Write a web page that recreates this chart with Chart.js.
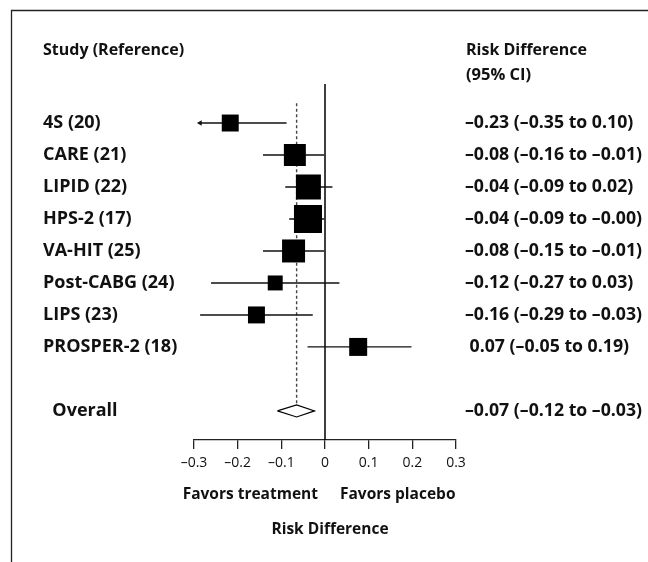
<!DOCTYPE html>
<html lang="en">
  <head>
    <meta charset="UTF-8" />
    <title>Risk Difference forest plot</title>
    <style>
      html, body { margin: 0; padding: 0; background: #fff; }
      #wrap { position: relative; width: 648px; height: 562px; }
    </style>
  </head>
  <body>
    <div id="wrap"><canvas id="forest"></canvas></div>

    <script src="https://cdn.jsdelivr.net/npm/chart.js@4.4.1/dist/chart.umd.min.js"></script>
    <script>
      // study labels and the printed estimates (right column)
      var studies = ["4S (20)", "CARE (21)", "LIPID (22)", "HPS-2 (17)", "VA-HIT (25)", "Post-CABG (24)", "LIPS (23)", "PROSPER-2 (18)"];
      var ciText = [
        "\u20130.23 (\u20130.35 to 0.10)",
        "\u20130.08 (\u20130.16 to \u20130.01)",
        "\u20130.04 (\u20130.09 to 0.02)",
        "\u20130.04 (\u20130.09 to \u20130.00)",
        "\u20130.08 (\u20130.15 to \u20130.01)",
        "\u20130.12 (\u20130.27 to 0.03)",
        "\u20130.16 (\u20130.29 to \u20130.03)",
        " 0.07 (\u20130.05 to 0.19)"
      ];

      // values as plotted
      var estimate = [-0.217, -0.069, -0.038, -0.039, -0.072, -0.114, -0.157, 0.076];
      var lowerCI = [-0.286, -0.142, -0.091, -0.082, -0.142, -0.261, -0.286, -0.040];
      var upperCI = [-0.088, -0.002, 0.017, -0.002, -0.002, 0.033, -0.028, 0.198];
      var weight = [8.1, 13.6, 17.6, 22.1, 14.9, 6.3, 8.1, 9.1]; // % weight -> box area
      var clippedLeft = [true, false, false, false, false, false, false, false];

      var overallLabel = "Overall";
      var overallText = "\u20130.07 (\u20130.12 to \u20130.03)";
      var overall = -0.065;
      var overallLow = -0.109;
      var overallHigh = -0.024;

      var xTicks = [-0.3, -0.2, -0.1, 0, 0.1, 0.2, 0.3];

      var FONT = "'Open Sans', 'DejaVu Sans', sans-serif";
      var overallRow = studies.length + 1;
      var yMin = -1.22, yMax = 9.91;

      function fmt(v) {
        if (Math.abs(v) < 1e-9) return "0";
        return (v < 0 ? "\u2013" : "") + Math.abs(v).toFixed(1);
      }

      var datasets = [];

      // boxes on top
      datasets.push({
        type: "scatter",
        order: 0,
        data: estimate.map(function (v, i) { return { x: v, y: i }; }),
        pointStyle: "rect",
        pointRadius: weight.map(function (w) { return Math.sqrt(w * 35.5) / Math.SQRT2; }),
        backgroundColor: "#000",
        borderColor: "#000",
        borderWidth: 0
      });

      // confidence interval whiskers
      studies.forEach(function (s, i) {
        datasets.push({
          type: "line",
          order: 2,
          data: [{ x: lowerCI[i], y: i }, { x: upperCI[i], y: i }],
          borderColor: "#111",
          borderWidth: 1.4,
          pointRadius: clippedLeft[i] ? [3.2, 0] : 0,
          pointStyle: "triangle",
          pointRotation: -90,
          pointBackgroundColor: "#111",
          pointBorderWidth: 0
        });
      });

      // line of no effect
      datasets.push({
        type: "line",
        order: 3,
        data: [{ x: 0, y: yMin }, { x: 0, y: yMax }],
        borderColor: "#000",
        borderWidth: 1.5,
        pointRadius: 0
      });

      // pooled estimate, dashed
      datasets.push({
        type: "line",
        order: 4,
        data: [{ x: overall, y: -0.62 }, { x: overall, y: overallRow - 0.2 }],
        borderColor: "#444",
        borderWidth: 1.4,
        borderDash: [3, 2.5],
        pointRadius: 0
      });

      // overall diamond
      datasets.push({
        type: "line",
        order: 1,
        data: [
          { x: overallLow, y: overallRow },
          { x: overall, y: overallRow - 0.19 },
          { x: overallHigh, y: overallRow },
          { x: overall, y: overallRow + 0.19 },
          { x: overallLow, y: overallRow }
        ],
        borderColor: "#000",
        borderWidth: 1.2,
        pointRadius: 0,
        tension: 0
      });

      var rows = studies.map(function (s, i) { return i; }).concat([overallRow]);

      var textPlugin = {
        id: "forestText",
        afterDraw: function (chart) {
          var ctx = chart.ctx;
          var x = chart.scales.x;
          var zero = x.getPixelForValue(0);
          ctx.save();
          // frame
          ctx.strokeStyle = "#222";
          ctx.lineWidth = 1.3;
          ctx.beginPath();
          ctx.moveTo(11.5, 562);
          ctx.lineTo(11.5, 10.5);
          ctx.lineTo(648, 10.5);
          ctx.stroke();

          ctx.fillStyle = "#111";
          ctx.font = "bold 16px " + FONT;
          ctx.textBaseline = "middle";
          ctx.textAlign = "left";
          ctx.fillText("Study (Reference)", 43, 50);
          ctx.fillText("Risk Difference", 466, 50);
          ctx.font = "bold 16.5px " + FONT;
          ctx.fillText("(95% CI)", 466, 75);

          ctx.font = "bold 15.5px " + FONT;
          ctx.textAlign = "right";
          ctx.fillText("Favors treatment", zero - 7, 495);
          ctx.textAlign = "left";
          ctx.fillText("Favors placebo", zero + 15, 495);
          ctx.textAlign = "center";
          ctx.fillText("Risk Difference", zero + 5, 530);
          ctx.restore();
        }
      };

      new Chart(document.getElementById("forest"), {
        data: { datasets: datasets },
        plugins: [textPlugin],
        options: {
          responsive: true,
          maintainAspectRatio: false,
          animation: false,
          layout: { padding: { left: 43, right: 0, top: 84, bottom: 0 } },
          plugins: { legend: { display: false }, tooltip: { enabled: false } },
          scales: {
            x: {
              type: "linear",
              min: -0.3,
              max: 0.3,
              afterBuildTicks: function (s) { s.ticks = xTicks.map(function (v) { return { value: v }; }); },
              afterFit: function (s) { s.height = 562 - 440; },
              ticks: {
                callback: function (v) { return fmt(v); },
                color: "#111",
                font: { family: FONT, size: 14 },
                padding: 6,
                maxRotation: 0,
                autoSkip: false
              },
              grid: { display: true, drawOnChartArea: false, drawTicks: true, tickLength: 9, color: "#222", lineWidth: 1.3 },
              border: { display: true, color: "#222", width: 1.3 }
            },
            y: {
              type: "linear",
              position: "left",
              reverse: true,
              min: yMin,
              max: yMax,
              afterBuildTicks: function (s) { s.ticks = rows.map(function (v) { return { value: v }; }); },
              afterFit: function (s) { s.width = 194 - 43; },
              ticks: {
                crossAlign: "far",
                autoSkip: false,
                color: "#111",
                font: { family: FONT, size: 18, weight: "bold" },
                callback: function (v) { return v === overallRow ? "  " + overallLabel : studies[v]; }
              },
              grid: { display: false, drawTicks: false },
              border: { display: false }
            },
            y2: {
              type: "linear",
              position: "right",
              reverse: true,
              min: yMin,
              max: yMax,
              afterBuildTicks: function (s) { s.ticks = rows.map(function (v) { return { value: v }; }); },
              afterFit: function (s) { s.width = 648 - 456; },
              ticks: {
                crossAlign: "near",
                padding: 9,
                autoSkip: false,
                color: "#111",
                font: { family: FONT, size: 17.7, weight: "bold" },
                callback: function (v) { return v === overallRow ? overallText : ciText[v]; }
              },
              grid: { display: false, drawTicks: false },
              border: { display: false }
            }
          }
        }
      });
    </script>
  </body>
</html>
